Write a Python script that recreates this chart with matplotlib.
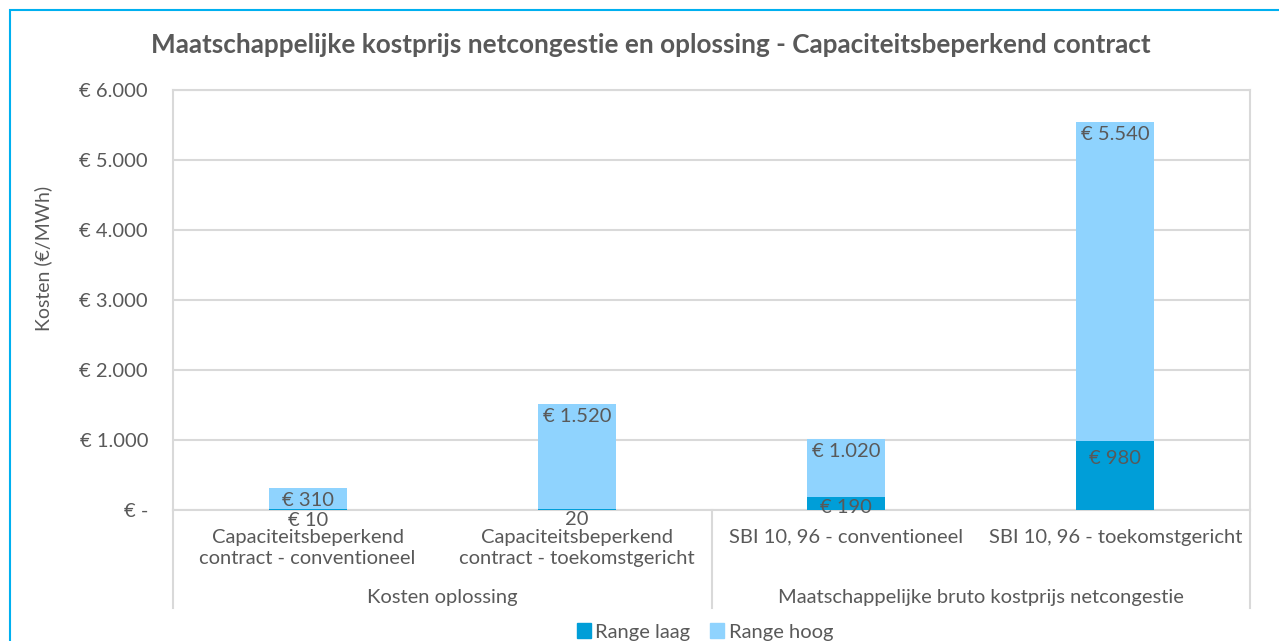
import matplotlib
matplotlib.use("Agg")
import matplotlib.pyplot as plt
from matplotlib.patches import Rectangle
from matplotlib.lines import Line2D

categories = [["Capaciteitsbeperkend", "contract - conventioneel"],
              ["Capaciteitsbeperkend", "contract - toekomstgericht"],
              ["SBI 10, 96 - conventioneel"],
              ["SBI 10, 96 - toekomstgericht"]]
groups = ["Kosten oplossing", "Maatschappelijke bruto kostprijs netcongestie"]
group_sizes = [2, 2]
range_laag = [10, 20, 190, 980]
range_hoog = [310, 1520, 1020, 5540]
laag_labels = ["€ 10", "20", "€ 190", "€ 980"]
hoog_labels = ["€ 310", "€ 1.520", "€ 1.020", "€ 5.540"]
yticks = [0, 1000, 2000, 3000, 4000, 5000, 6000]
ytick_labels = ["€ -", "€ 1.000", "€ 2.000", "€ 3.000", "€ 4.000", "€ 5.000", "€ 6.000"]
title = "Maatschappelijke kostprijs netcongestie en oplossing - Capaciteitsbeperkend contract"

plt.rcParams['font.family'] = ['Lato', 'DejaVu Sans']
TXT = "#595959"
DARK = "#009ED8"
LIGHT = "#8FD3FE"
GRID = "#D9D9D9"
FS = 14.5

W, H = 1279, 641
fig = plt.figure(figsize=(W/100, H/100), dpi=100)

def fx(px):
    return px / W
def fy(py):
    return 1 - py / H

# outer border
fig.add_artist(Rectangle((fx(10), fy(700)), fx(1400), 690/H, transform=fig.transFigure,
                         fill=False, edgecolor="#00B0F0", lw=1.5, clip_on=False))

x0, x1, ytop, ybot = 173, 1250, 90, 510
ax = fig.add_axes([fx(x0), fy(ybot), fx(x1 - x0), (ybot - ytop) / H])
n = len(categories)
xs = list(range(n))
bw = 0.29
ax.bar(xs, range_hoog, width=bw, color=LIGHT, zorder=2)
ax.bar(xs, range_laag, width=bw, color=DARK, zorder=3)
ax.set_xlim(-0.5, n - 0.5)
ax.set_ylim(0, 6000)
ax.set_yticks(yticks)
ax.set_yticklabels(ytick_labels, fontsize=FS, color=TXT)
ax.tick_params(axis='y', length=0, pad=18)
ax.set_xticks([])
ax.grid(axis='y', color=GRID, lw=1.5, zorder=0)
ax.set_axisbelow(True)
for s in ["left", "right", "top"]:
    ax.spines[s].set_color(GRID)
    ax.spines[s].set_linewidth(1.5)
ax.spines["bottom"].set_visible(False)

for i in xs:
    ax.annotate(hoog_labels[i], (i, range_hoog[i]), xytext=(0, -3), textcoords="offset points",
                ha="center", va="top", fontsize=FS, color=TXT, zorder=5)
    ax.annotate(laag_labels[i], (i, range_laag[i]), xytext=(0, -2 if i < 3 else -6), textcoords="offset points",
                ha="center", va="top", fontsize=FS, color=TXT, zorder=5)

ax.set_ylabel("Kosten (€/MWh)", fontsize=FS - 0.5, color=TXT)
ax.yaxis.set_label_coords(-(173 - 52) / (x1 - x0), (ybot - 258) / (ybot - ytop))

# multi-level category axis
tr = ax.get_xaxis_transform()
def yax(py):
    return (ybot - py) / (ybot - ytop)
for i, lab in enumerate(categories):
    ax.text(i, yax(548 if len(lab) == 2 else 537), "\n".join(lab), transform=tr, ha="center", va="center",
            fontsize=FS, color=TXT, linespacing=1.25, clip_on=False)
pos = 0
bounds = [-0.5]
for g, sz in zip(groups, group_sizes):
    ax.text(pos + (sz - 1) / 2, yax(597), g, transform=tr, ha="center", va="center",
            fontsize=FS, color=TXT, clip_on=False)
    pos += sz
    bounds.append(pos - 0.5)
for b in bounds:
    ax.add_line(Line2D([b, b], [0, yax(608)], transform=tr, color=GRID, lw=1.5, clip_on=False))
ax.add_line(Line2D([-0.5, n - 0.5], [0, 0], transform=tr, color=GRID, lw=1.5, clip_on=False, zorder=1))

fig.text(fx(651), fy(45), title, ha="center", va="center", fontsize=18.8, fontweight="bold", color=TXT)

handles = [Rectangle((0, 0), 1, 1, color=DARK), Rectangle((0, 0), 1, 1, color=LIGHT)]
fig.legend(handles, ["Range laag", "Range hoog"], loc="center", bbox_to_anchor=(fx(705), fy(632)),
           ncol=2, frameon=False, fontsize=FS, handlelength=0.7, handleheight=0.7,
           handletextpad=0.2, columnspacing=1.0, labelcolor=TXT)

fig.savefig("out.png", dpi=100)
